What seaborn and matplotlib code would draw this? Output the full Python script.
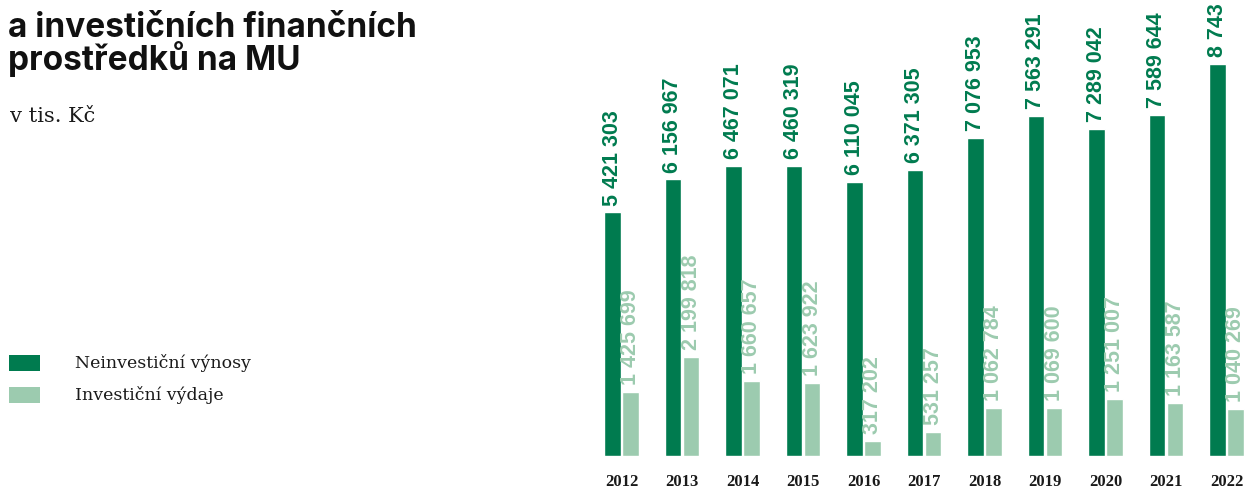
import matplotlib
matplotlib.use("Agg")
import matplotlib.pyplot as plt
import seaborn as sns
import pandas as pd
from matplotlib.patches import Rectangle

years = ["2012", "2013", "2014", "2015", "2016", "2017", "2018", "2019", "2020", "2021", "2022"]
neinvesticni = [5421303, 6156967, 6467071, 6460319, 6110045, 6371305, 7076953, 7563291, 7289042, 7589644, 8743000]
investicni = [1425699, 2199818, 1660657, 1623922, 317202, 531257, 1062784, 1069600, 1251007, 1163587, 1040269]
labels_nein = ["5 421 303", "6 156 967", "6 467 071", "6 460 319", "6 110 045", "6 371 305",
               "7 076 953", "7 563 291", "7 289 042", "7 589 644", "8 743"]
labels_inv = ["1 425 699", "2 199 818", "1 660 657", "1 623 922", "317 202", "531 257",
              "1 062 784", "1 069 600", "1 251 007", "1 163 587", "1 040 269"]
series = ["Neinvestiční výnosy", "Investiční výdaje"]
title_lines = ["a investičních finančních", "prostředků na MU"]
subtitle = "v tis. Kč"

DARK = "#007b4f"
LIGHT = "#9ccbaf"

df = pd.DataFrame({
    "rok": years * 2,
    "hodnota": neinvesticni + investicni,
    "serie": [series[0]] * len(years) + [series[1]] * len(years),
})

sns.set_theme(style="white")
plt.rcParams["font.family"] = ["DejaVu Sans"]

W, H = 1246, 488
fig = plt.figure(figsize=(W / 100, H / 100), dpi=100)
ax_left, ax_right = 590, 1246
baseline = 455.5
ax = fig.add_axes([ax_left / W, 1 - baseline / H, (ax_right - ax_left) / W, baseline / H])

sns.barplot(data=df, x="rok", y="hodnota", hue="serie", order=years, hue_order=series,
            palette=[DARK, LIGHT], width=0.6, gap=0.08, dodge=True, legend=False,
            saturation=1, ax=ax)

ax.set_xlim(-0.521, 10.322)
ax.set_ylim(0, baseline * 22305)

for cont, labs, col in zip(ax.containers, [labels_nein, labels_inv], [DARK, LIGHT]):
    ax.bar_label(cont, labels=labs, padding=5, rotation=90, color=col,
                 fontsize=15.5, fontweight="bold", family="Liberation Sans",
                 clip_on=False)

ax.set_xlabel("")
ax.set_ylabel("")
ax.set_yticks([])
ax.tick_params(axis="x", length=0, pad=13)
for t in ax.get_xticklabels():
    t.set_fontfamily("Liberation Serif")
    t.set_fontweight("bold")
    t.set_fontsize(12)
    t.set_color("#1a1a1a")
for s in ax.spines.values():
    s.set_visible(False)

# Title & subtitle
fig.text(8 / W, 1 - 37 / H, title_lines[0], fontsize=24, fontweight="bold",
         family="Inter", color="#111111", va="baseline", ha="left")
fig.text(8 / W, 1 - 70 / H, title_lines[1], fontsize=24, fontweight="bold",
         family="Inter", color="#111111", va="baseline", ha="left")
fig.text(10 / W, 1 - 122 / H, subtitle, fontsize=15, family="DejaVu Serif",
         color="#1a1a1a", va="baseline", ha="left")

# Legend
for i, (name, col) in enumerate(zip(series, [DARK, LIGHT])):
    y_top = 355 + i * 32
    fig.add_artist(Rectangle((9 / W, 1 - (y_top + 16) / H), 31 / W, 16 / H,
                             transform=fig.transFigure, color=col, lw=0))
    fig.text(75 / W, 1 - (y_top + 8) / H, name, fontsize=12.5, family="DejaVu Serif",
             color="#1a1a1a", va="center", ha="left")

fig.savefig("out.png", dpi=100)
